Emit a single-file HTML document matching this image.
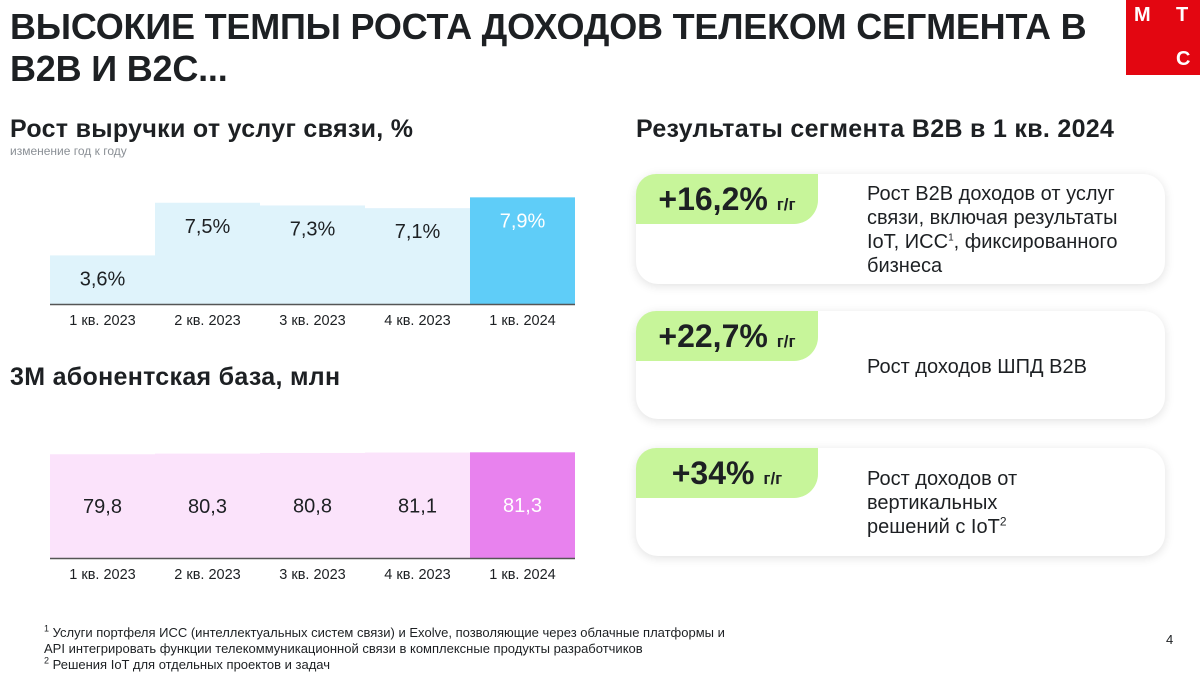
<!DOCTYPE html>
<html><head><meta charset="utf-8"><style>
body{margin:0;width:1200px;height:674px;background:#fff;font-family:"Liberation Sans","DejaVu Sans",sans-serif;color:#1d2023;position:relative;overflow:hidden}
.abs{position:absolute}
.title{left:10px;top:6px;font-size:36px;font-weight:bold;line-height:42px;letter-spacing:-0.2px;white-space:nowrap}
.h2{font-size:25px;font-weight:bold;letter-spacing:0.3px;white-space:nowrap}
.card{left:636px;width:529px;background:#fff;border-radius:22px;box-shadow:0 2px 10px rgba(0,0,0,0.12)}
.pill{position:absolute;left:0;top:0;width:182px;height:50px;background:#c7f59a;border-radius:20px 0 24px 0;font-size:32px;font-weight:bold;line-height:50px;text-align:center;white-space:nowrap}
.pill small{font-size:17px}
.ctext{position:absolute;left:231px;font-size:20px;line-height:24px;color:#1d2023;white-space:nowrap}
sup{line-height:0}
.foot{left:44px;top:625px;font-size:13px;line-height:16px;color:#1d2023;white-space:nowrap}
</style></head><body>
<div class="abs title">ВЫСОКИЕ ТЕМПЫ РОСТА ДОХОДОВ ТЕЛЕКОМ СЕГМЕНТА В<br>B2B И B2C...</div>
<div class="abs" style="left:1126px;top:0;width:74px;height:75px;background:#e30611;color:#fff;font-weight:bold;font-size:20px">
<span class="abs" style="left:8px;top:4px">М</span><span class="abs" style="left:50px;top:4px">Т</span><span class="abs" style="left:50px;top:48px">С</span></div>
<div class="abs h2" style="left:10px;top:115px">Рост выручки от услуг связи, %</div>
<div class="abs" style="left:10px;top:144px;font-size:12px;color:#8a8f95">изменение год к году</div>
<div class="abs h2" style="left:10px;top:363px">3М абонентская база, млн</div>
<div class="abs h2" style="left:636px;top:115px">Результаты сегмента B2B в 1 кв. 2024</div>
<svg class="abs" style="left:0;top:0" width="620" height="600" id="charts"></svg>

<div class="abs card" style="top:174px;height:110px">
<div class="pill">+16,2% <small>г/г</small></div>
<div class="ctext" style="top:8px">Рост B2B доходов от услуг<br>связи, включая результаты<br>IoT, ИСС<sup style="font-size:10px">1</sup>, фиксированного<br>бизнеса</div></div>
<div class="abs card" style="top:311px;height:108px">
<div class="pill">+22,7% <small>г/г</small></div>
<div class="ctext" style="top:44px">Рост доходов ШПД B2B</div></div>
<div class="abs card" style="top:448px;height:108px">
<div class="pill">+34% <small>г/г</small></div>
<div class="ctext" style="top:19px">Рост доходов от<br>вертикальных<br>решений с IoT<sup style="font-size:12px">2</sup></div></div>

<div class="abs foot"><sup style="font-size:9px">1</sup> Услуги портфеля ИСС (интеллектуальных систем связи) и Exolve, позволяющие через облачные платформы и<br>API интегрировать функции телекоммуникационной связи в комплексные продукты разработчиков<br><sup style="font-size:9px">2</sup> Решения IoT для отдельных проектов и задач</div>
<div class="abs" style="left:1166px;top:632px;font-size:13px">4</div>
<script>
const categories=["1 кв. 2023","2 кв. 2023","3 кв. 2023","4 кв. 2023","1 кв. 2024"];
const revenueGrowth=[3.6,7.5,7.3,7.1,7.9];
const revenueLabels=["3,6%","7,5%","7,3%","7,1%","7,9%"];
const subscribers=[79.8,80.3,80.8,81.1,81.3];
const subscriberLabels=["79,8","80,3","80,8","81,1","81,3"];
const svg=document.getElementById('charts');
const NS='http://www.w3.org/2000/svg';
const x0=50,bw=105;
function xAt(i){return x0+i*bw;}
function mk(t,a){const e=document.createElementNS(NS,t);for(const k in a)e.setAttribute(k,a[k]);svg.appendChild(e);return e;}
function chart(vals,labels,base,scale,light,dark,labelOffset){
 const y=v=>base-v*scale;
 vals.forEach((v,i)=>{
  const last=i===vals.length-1;
  const r=mk('rect',{x:xAt(i),y:y(v),width:bw,height:base-y(v),fill:last?dark:light});
  
  
  const t=mk('text',{x:xAt(i)+bw/2,y:labelOffset?y(v)+labelOffset:(base-(base-y(v))/2+7),'text-anchor':'middle','font-size':20,fill:last?'#fff':'#1d2023'});
  t.textContent=labels[i];
  
  
  const c=mk('text',{x:xAt(i)+bw/2,y:base+21,'text-anchor':'middle','font-size':14.5,fill:'#1d2023'});
  c.textContent=categories[i];
  
  
 });
 const ax=mk('line',{x1:x0,x2:x0+bw*vals.length,y1:base+0.5,y2:base+0.5,stroke:'#555','stroke-width':1.5});
 
 
}
chart(revenueGrowth,revenueLabels,304,13.5,'#dff3fb','#5fcdf8',30);
chart(subscribers,subscriberLabels,558,1.3,'#fbe3fb','#e882ee',0);
</script>
</body></html>
